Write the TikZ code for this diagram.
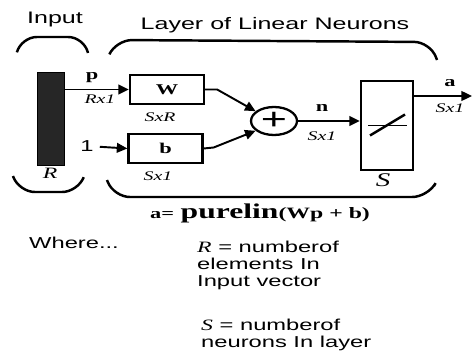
\documentclass[tikz,border=0pt]{standalone}
\usepackage{fontspec}
\setmainfont[FakeStretch=1.5]{Liberation Serif}
\setsansfont[FakeStretch=1.5]{Liberation Sans}
\usepackage{tikz}
\usetikzlibrary{arrows.meta, shapes.geometric, positioning, calc}

\begin{document}
\begin{tikzpicture}[
  x=0.02cm, y=-0.02cm,
  font=\sffamily,
  block/.style={draw, line width=1.3pt, rectangle, inner sep=0pt,
                minimum width=1.48cm, minimum height=0.58cm,
                font=\rmfamily\bfseries\fontsize{8.5}{9}\selectfont},
  inbar/.style={draw, fill=black!85, rectangle, inner sep=0pt,
                minimum width=0.54cm, minimum height=1.86cm},
  xfer/.style={block, minimum width=1.04cm, minimum height=1.78cm},
  summer/.style={draw, line width=1.3pt, ellipse, inner sep=0pt,
                 minimum width=0.92cm, minimum height=0.56cm,
                 font=\sffamily\fontsize{17}{17}\selectfont},
  sig/.style={-{Triangle[length=6pt, width=5.5pt]}, line width=1.1pt},
  brace/.style={line width=1.4pt, rounded corners=9pt},
  vec/.style={font=\rmfamily\bfseries\fontsize{8.5}{9}\selectfont},
  dims/.style={font=\rmfamily\itshape\fontsize{7.5}{8}\selectfont},
  head/.style={anchor=base, font=\sffamily\fontsize{9.5}{11}\selectfont},
  note/.style={anchor=north west, align=left,
               font=\sffamily\fontsize{9}{9.5}\selectfont}
]
\useasboundingbox (0,0) rectangle (475,354);

%% Headings and braces
\node[head] (inhd)  at (55,24)  {Input};
\node[head] (layhd) at (275,30) {Layer of Linear Neurons};
\draw[brace] (17,52) -- (21,37) -- (84,37) -- (88,53);
\draw[brace] (110,53) -- (116,40) -- (430,42) -- (437,60);
\draw[brace] (13,176) -- (19,192) -- (78,192) -- (83,179);
\draw[brace] (107,180) -- (114,197) -- (428,197) -- (434,186);

%% Blocks
\node[inbar]  (bar) at (50.5,118.5) {};
\node[block]  (W)   at (167,89.5)   {W};
\node[block]  (b)   at (165.5,148.5){b};
\node[summer] (sum) at (274,121)    {+};
\node[xfer]   (S)   at (387,125.5)  {};
\node[font=\sffamily\fontsize{9}{9}\selectfont] (one) at (87,146) {1};
\coordinate (aout) at (472,96);

%% Signals
\draw[sig] (bar.east |- W.west) -- (W.west);
\draw[sig] (one) -- (b.west);
\draw[sig] (W.east) -- ++(12,0) -- (sum.152);
\draw[sig] (b.east) -- ++(10,-1) -- (sum.208);
\draw[sig] (sum.east) -- (sum.east -| S.west);
\draw[sig] (S.east |- aout) -- (aout);

%% purelin symbol
\draw[line width=0.5pt] ($(S.center)+(-19,0)$) -- ($(S.center)+(20,0)$);
\draw[line width=1.4pt] ($(S.center)+(-17,10)$) -- ($(S.center)+(18,-11)$);

%% Labels
\node[vec]  (plbl) at (92,78)  {p};
\node[dims] (pdim) at (100,99) {Rx1};
\node[dims] (wdim) at (160,117){SxR};
\node[dims] (bdim) at (158,176){Sx1};
\node[vec]  (nlbl) at (322,108){n};
\node[dims] (ndim) at (322,136){Sx1};
\node[vec]  (albl) at (450,83) {a};
\node[dims] (adim) at (450,108){Sx1};
\node[font=\rmfamily\itshape\fontsize{9}{9}\selectfont]   (rlbl) at (50,173) {R};
\node[font=\rmfamily\itshape\fontsize{11}{11}\selectfont] (slbl) at (383,180){S};

%% Equation and notes
\node[font=\rmfamily\bfseries, anchor=base] (eqn) at (260,218)
  {{\fontsize{8.5}{9}\selectfont a=} {\fontsize{12}{12}\selectfont purelin}{\fontsize{9}{9}\selectfont (Wp + b)}};
\node[font=\sffamily\fontsize{9}{9.5}\selectfont, anchor=base west] (where) at (23,248) {Where...};
\node[note] (rnote) at (191,235)
  {{\rmfamily\itshape R} = numberof\\elements In\\ Input vector};
\node[note] (snote) at (195,313)
  {{\rmfamily\itshape S} = numberof\\neurons In layer};

\end{tikzpicture}
\end{document}
